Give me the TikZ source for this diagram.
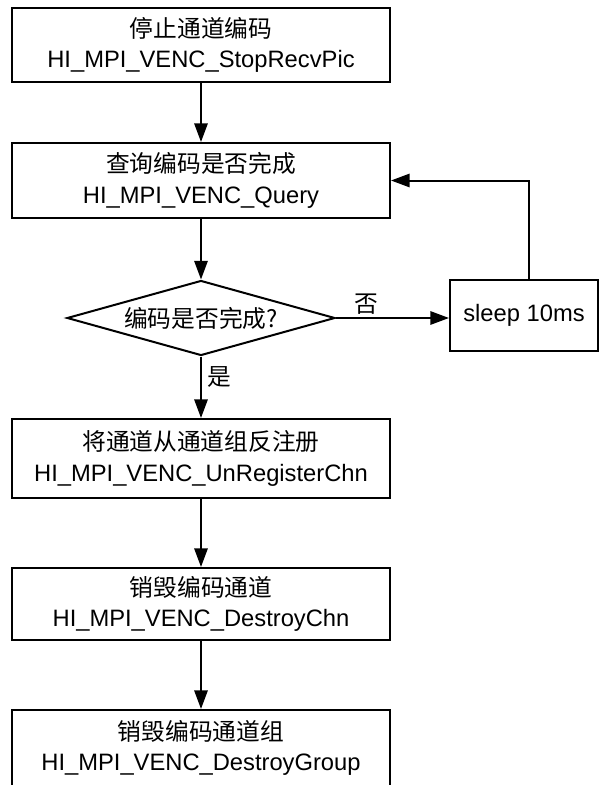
\documentclass[tikz,border=0pt]{standalone}
\usepackage{fontspec}
\setmainfont{Liberation Sans}
\newfontfamily\cjk{Noto Sans CJK SC}
\usetikzlibrary{shapes.geometric,arrows.meta}
\tikzset{
  every node/.style={font=\fontsize{17.8}{23}\selectfont, align=center},
  procbox/.style={draw, line width=1.5pt, rectangle, inner sep=0pt, fill=white},
  decide/.style={draw, line width=1.5pt, diamond, aspect=3.57, inner sep=0pt,
    minimum width=201pt, minimum height=56.25pt},
  flow/.style={line width=1.5pt, -{Triangle[length=14pt,width=10pt]}},
  lbl/.style={inner sep=2pt, font=\cjk\fontsize{17.8}{23}\selectfont}
}
\begin{document}
\begin{tikzpicture}[x=0.75pt, y=-0.75pt]
\clip (0,0) rectangle (600,785);
\fill[white] (0,0) rectangle (600,785);

\node[procbox, minimum width=283.5pt, minimum height=55.5pt] (stop) at (201,45)
  {{\cjk 停止通道编码}\\HI\_MPI\_VENC\_StopRecvPic};
\node[procbox, minimum width=283.5pt, minimum height=56.25pt] (query) at (201,180.5)
  {{\cjk 查询编码是否完成}\\HI\_MPI\_VENC\_Query};
\node[decide] (dec) at (201,318) {\cjk 编码是否完成?};
\node[procbox, minimum width=111pt, minimum height=53.25pt] (sleep) at (524,315.5)
  {sleep 10ms};
\node[procbox, minimum width=283.5pt, minimum height=59.25pt] (unreg) at (201,458.5)
  {{\cjk 将通道从通道组反注册}\\HI\_MPI\_VENC\_UnRegisterChn};
\node[procbox, minimum width=283.5pt, minimum height=54pt] (dchn) at (201,604)
  {{\cjk 销毁编码通道}\\HI\_MPI\_VENC\_DestroyChn};
\node[procbox, minimum width=283.5pt, minimum height=57pt] (dgrp) at (201,748)
  {{\cjk 销毁编码通道组}\\HI\_MPI\_VENC\_DestroyGroup};

\coordinate (fb) at (529,181);

\draw[flow] (stop.south) -- (query.north);
\draw[flow] (query.south) -- (dec.north);
\draw[flow] (dec.east) -- node[lbl, above, pos=0.27] {否} (dec.east -| sleep.west);
\draw[flow] (sleep.north -| fb) |- (query.east);
\draw[flow] (dec.south) -- node[lbl, right, pos=0.33, inner sep=4pt] {是} (unreg.north);
\draw[flow] (unreg.south) -- (dchn.north);
\draw[flow] (dchn.south) -- (dgrp.north);
\end{tikzpicture}
\end{document}
